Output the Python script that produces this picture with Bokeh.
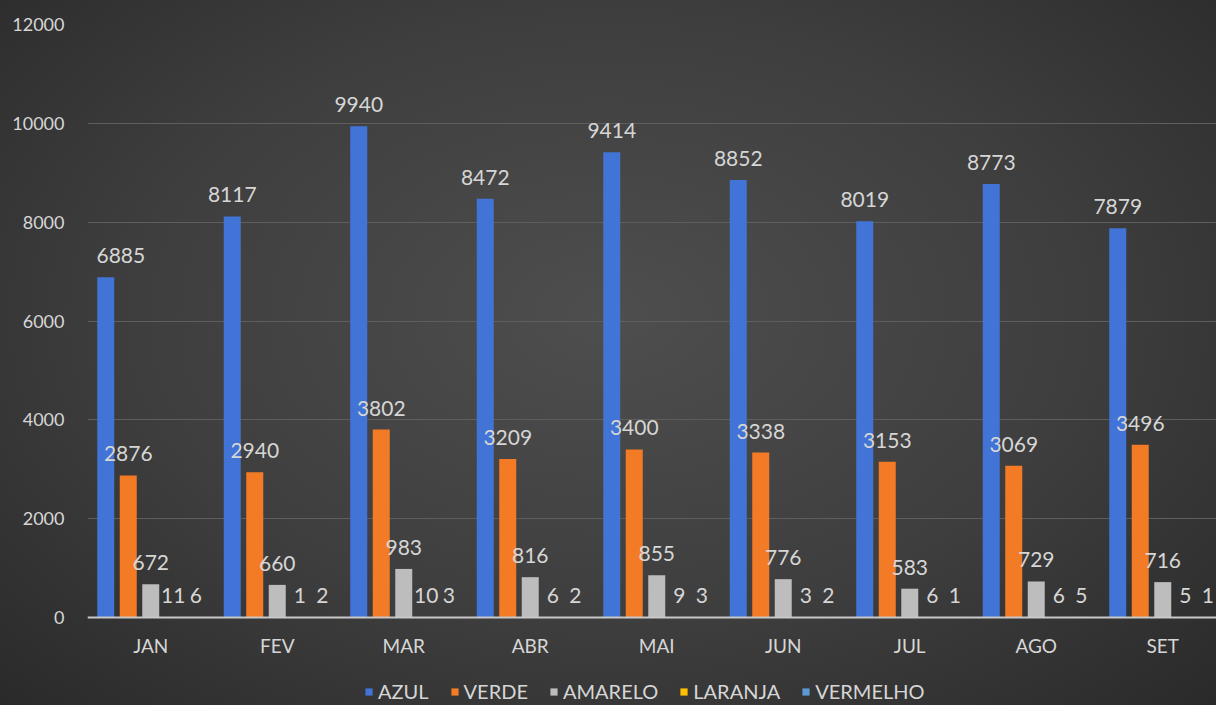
from bokeh.plotting import figure
from bokeh.models import (Range1d, FixedTicker, Legend, LegendItem,
                          InlineStyleSheet, ColumnDataSource)
from bokeh.core.properties import value
from bokeh.embed import file_html
from bokeh.resources import INLINE

months = ["JAN", "FEV", "MAR", "ABR", "MAI", "JUN", "JUL", "AGO", "SET"]
series_names = ["AZUL", "VERDE", "AMARELO", "LARANJA", "VERMELHO"]
azul = [6885, 8117, 9940, 8472, 9414, 8852, 8019, 8773, 7879]
verde = [2876, 2940, 3802, 3209, 3400, 3338, 3153, 3069, 3496]
amarelo = [672, 660, 983, 816, 855, 776, 583, 729, 716]
laranja = [11, 1, 10, 6, 9, 3, 6, 6, 5]
vermelho = [6, 2, 3, 2, 3, 2, 1, 5, 1]
y_ticks = [0, 2000, 4000, 6000, 8000, 10000, 12000]

series_values = [azul, verde, amarelo, laranja, vermelho]
colors = ["#4174D6", "#F47B25", "#BDBDBD", "#FFC000", "#5B9BD5"]

FONT = "Lato"
TEXT_COLOR = "#d6d6d6"

left, top = 87, 24
frame_w = 1129
plot_h = 593          # pixels between 0 and 12000
below_h = 88          # room under the zero line for labels and legend
frame_h = plot_h + below_h
y_max = 12000
y_min = -below_h * y_max / plot_h
cat_px = 126.5
x_end = -0.5 + frame_w / cat_px

p = figure(frame_width=frame_w, frame_height=frame_h, output_backend="svg",
           toolbar_location=None,
           x_range=Range1d(-0.5, x_end), y_range=Range1d(y_min, y_max),
           min_border_left=left, min_border_right=0,
           min_border_top=top, min_border_bottom=0)

p.background_fill_color = None
p.border_fill_color = None
p.outline_line_color = None
p.stylesheets = [InlineStyleSheet(css=":host { background: radial-gradient(ellipse at 50% 45%, #4e4e4e 0%, #3e3e3e 55%, #2a2a2a 100%); }")]

step = 22.5 / cat_px
bar_w = 17.0 / cat_px
offsets = [-2 * step, -1 * step, 0, 1 * step, 2 * step]
LABEL_FONT_PX = 21

items = []
for k, (name, vals, col, off) in enumerate(zip(series_names, series_values, colors, offsets)):
    xs = [i + off for i in range(len(months))]
    # keep labels inside the plot area (like the spreadsheet does)
    shifts = []
    for i, v in enumerate(vals):
        half_w = len(str(v)) * 0.29 * LABEL_FONT_PX
        bar_px = (xs[i] + 0.5) * cat_px
        shifts.append(max(0.0, half_w + 9 - bar_px))
    src = ColumnDataSource(dict(x=xs, top=vals, label=[str(v) for v in vals],
                                dx=shifts))
    r = p.vbar(x="x", top="top", width=bar_w, source=src, fill_color=col,
               line_color=None)
    items.append(LegendItem(label=name, renderers=[r]))
    p.text(x="x", y="top", text="label", source=src, text_align="center",
           text_baseline="bottom", x_offset="dx", y_offset=-14,
           text_color=TEXT_COLOR, text_font=value(FONT),
           text_font_size=f"{LABEL_FONT_PX}px")

# axes
p.xaxis.fixed_location = 0
p.xaxis.ticker = FixedTicker(ticks=list(range(len(months))))
p.xaxis.major_label_overrides = {i: m for i, m in enumerate(months)}
p.xaxis.major_tick_line_color = None
p.xaxis.minor_tick_line_color = None
p.xaxis.axis_line_color = "#c8c8c8"
p.xaxis.axis_line_width = 2
p.xaxis.major_label_standoff = 10
p.xaxis.major_label_text_color = TEXT_COLOR
p.xaxis.major_label_text_font = FONT
p.xaxis.major_label_text_font_size = "19px"

p.yaxis.ticker = FixedTicker(ticks=y_ticks)
p.yaxis.major_tick_line_color = None
p.yaxis.minor_tick_line_color = None
p.yaxis.axis_line_color = None
p.yaxis.major_label_standoff = 17
p.yaxis.major_label_text_color = TEXT_COLOR
p.yaxis.major_label_text_font = FONT
p.yaxis.major_label_text_font_size = "18px"

p.xgrid.grid_line_color = None
p.ygrid.ticker = FixedTicker(ticks=y_ticks)
p.ygrid.grid_line_color = "#5e5e5e"
p.ygrid.grid_line_width = 1

legend = Legend(items=items, orientation="horizontal", location=(277, 2),
                background_fill_alpha=0, border_line_color=None,
                label_text_color=TEXT_COLOR, label_text_font=FONT,
                label_text_font_size="20px", glyph_width=9, glyph_height=9,
                label_standoff=5, spacing=21, padding=0, margin=0)
p.add_layout(legend, "center")

open("out.html", "w").write(file_html(p, INLINE))
